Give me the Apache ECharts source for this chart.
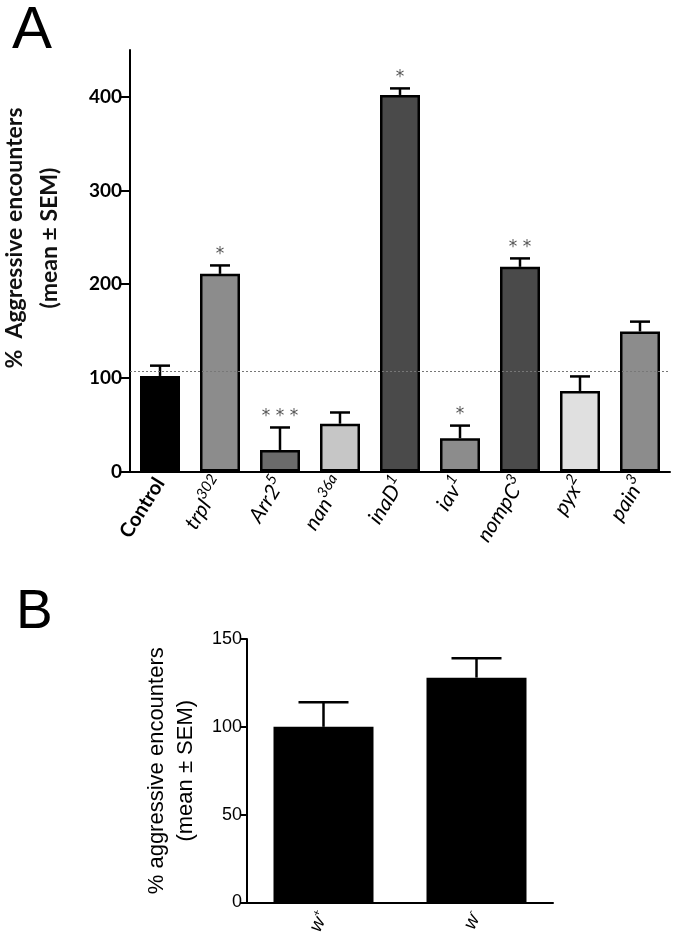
<!DOCTYPE html>
<html><head><meta charset="utf-8">
<script src="https://cdn.jsdelivr.net/npm/echarts@6/dist/echarts.min.js"></script>
<style>html,body{margin:0;padding:0;background:#fff}#c{width:677px;height:944px}</style>
</head><body><div id="c"></div>
<script>
// ---- Panel A data ----
const genotypesA = ['Control', 'trpl', 'Arr2', 'nan', 'inaD', 'iav', 'nompC', 'pyx', 'pain'];
const allelesA = ['', '302', '5', '36a', '1', '1', '3', '2', '3'];
const meanA = [102, 211, 23, 51, 402, 35.5, 218.5, 86, 149.5];
const semA = [11, 9, 24, 12, 7, 13.5, 9, 15.5, 10.5];
const starsA = ['', '*', '***', '', '*', '*', '**', '', ''];
const refLineA = 107;
const yTicksA = [0, 100, 200, 300, 400];

// ---- Panel B data ----
const genotypesB = ['w', 'w'];
const allelesB = ['+', '-'];
const meanB = [100, 128];
const semB = [14, 11];
const yTicksB = [0, 50, 100, 150];

// ---- styling ----
const fillA = ['#000000', '#8c8c8c', '#6b6b6b', '#c6c6c6', '#4a4a4a', '#8c8c8c', '#4a4a4a', '#e0e0e0', '#8c8c8c'];
const fontA = 'Lato';
const fontB = 'Liberation Sans, Arial, sans-serif';

function errRender(capW, lw, starGap) {
  return function (params, api) {
    const x = api.value(0), m = api.value(1), e = api.value(2);
    const base = api.coord([x, m]);
    const top = api.coord([x, m + e]);
    const children = [
      { type: 'line', shape: { x1: base[0], y1: base[1], x2: top[0], y2: top[1] }, style: { stroke: '#000', lineWidth: lw } },
      { type: 'line', shape: { x1: top[0] - capW / 2, y1: top[1], x2: top[0] + capW / 2, y2: top[1] }, style: { stroke: '#000', lineWidth: lw } }
    ];
    const s = params.seriesName === 'errA' ? starsA[params.dataIndex] : '';
    if (s) {
      children.push({ type: 'text', x: top[0], y: top[1] - starGap,
        style: { text: s.split('').join(' '), align: 'center', verticalAlign: 'middle', font: '17px DejaVu Sans', fill: '#555' } });
    }
    return { type: 'group', children };
  };
}

const chart = echarts.init(document.getElementById('c'), null, { renderer: 'canvas' });
chart.setOption({
  backgroundColor: '#fff',
  animation: false,
  title: [
    { text: 'A', left: 7, top: -4, textStyle: { fontFamily: fontB, fontSize: 60, fontWeight: 'normal', color: '#000' } },
    { text: 'B', left: 11, top: 580, textStyle: { fontFamily: fontB, fontSize: 55, fontWeight: 'normal', color: '#000' } }
  ],
  graphic: [
    { type: 'text', x: 32, y: 238, rotation: Math.PI / 2,
      style: { text: '%  Aggressive encounters\n(mean \u00b1 SEM)', font: 'bold 23px Lato', fill: '#111',
        align: 'center', verticalAlign: 'middle', lineHeight: 35 } }
  ],
  grid: [
    { left: 130, right: 7, top: 50, bottom: 472.5 },
    { left: 247, right: 124, top: 639, bottom: 41.5 }
  ],
  xAxis: [
    { type: 'category', gridIndex: 0, data: genotypesA,
      axisLine: { lineStyle: { color: '#000', width: 2 } },
      axisTick: { alignWithLabel: true, length: 8, lineStyle: { color: '#000', width: 2 } },
      axisLabel: { rotate: 58, margin: 8, interval: 0, color: '#000',
        formatter: (v, i) => i === 0 ? '{b|' + v + '}' : '{i|' + v + '}{s|' + allelesA[i] + '}',
        rich: {
          b: { fontFamily: fontA, fontWeight: 'bold', fontSize: 20, color: '#000' },
          i: { fontFamily: fontA, fontStyle: 'italic', fontSize: 21, color: '#000' },
          s: { fontFamily: fontA, fontStyle: 'italic', fontSize: 15, color: '#000', padding: [0, 0, 15, 0] }
        } } },
    { type: 'category', gridIndex: 1, data: genotypesB,
      axisLine: { lineStyle: { color: '#000', width: 2 } },
      axisTick: { alignWithLabel: true, length: 7, lineStyle: { color: '#000', width: 2 } },
      axisLabel: { rotate: 65, margin: 10, interval: 0, color: '#000',
        formatter: (v, i) => '{i|' + v + '}{s|' + allelesB[i] + '}',
        rich: {
          i: { fontFamily: fontB, fontStyle: 'italic', fontSize: 19, color: '#000' },
          s: { fontFamily: fontB, fontSize: 11, color: '#000', padding: [0, 0, 11, 0] }
        } } }
  ],
  yAxis: [
    { type: 'value', gridIndex: 0, min: 0, max: 450,
      axisLine: { show: true, lineStyle: { color: '#000', width: 2 } },
      axisTick: { show: true, length: 10, customValues: yTicksA, lineStyle: { color: '#000', width: 2 } },
      axisLabel: { customValues: yTicksA, margin: 8, fontFamily: fontA, fontWeight: 'bold', fontSize: 19, color: '#000' },
      splitLine: { show: false } },
    { type: 'value', gridIndex: 1, min: 0, max: 150, interval: 50,
      name: '% aggressive encounters\n(mean \u00b1 SEM)', nameLocation: 'middle', nameGap: 47, nameRotate: 90,
      nameTextStyle: { fontFamily: fontB, fontSize: 22, lineHeight: 29, color: '#000' },
      axisLine: { show: true, lineStyle: { color: '#000', width: 2 } },
      axisTick: { show: true, length: 7, customValues: yTicksB, lineStyle: { color: '#000', width: 2 } },
      axisLabel: { customValues: yTicksB, margin: 5, fontFamily: fontB, fontSize: 18, color: '#000' },
      splitLine: { show: false } }
  ],
  series: [
    { type: 'bar', name: 'barA', xAxisIndex: 0, yAxisIndex: 0, barWidth: 40,
      data: meanA.map((v, i) => ({ value: v, itemStyle: { color: fillA[i] } })),
      itemStyle: { borderColor: '#000', borderWidth: 2.5 },
      markLine: { silent: true, symbol: 'none', label: { show: false },
        lineStyle: { type: [2, 2], color: '#777', width: 1 },
        data: [{ yAxis: refLineA }] } },
    { type: 'custom', name: 'errA', xAxisIndex: 0, yAxisIndex: 0,
      renderItem: errRender(20, 2.5, 11),
      data: meanA.map((v, i) => [i, v, semA[i]]), z: 3 },
    { type: 'bar', name: 'barB', xAxisIndex: 1, yAxisIndex: 1, barWidth: 100,
      data: meanB, itemStyle: { color: '#000' } },
    { type: 'custom', name: 'errB', xAxisIndex: 1, yAxisIndex: 1,
      renderItem: errRender(50, 2.5, 0),
      data: meanB.map((v, i) => [i, v, semB[i]]), z: 3 }
  ]
});
</script>
</body></html>
